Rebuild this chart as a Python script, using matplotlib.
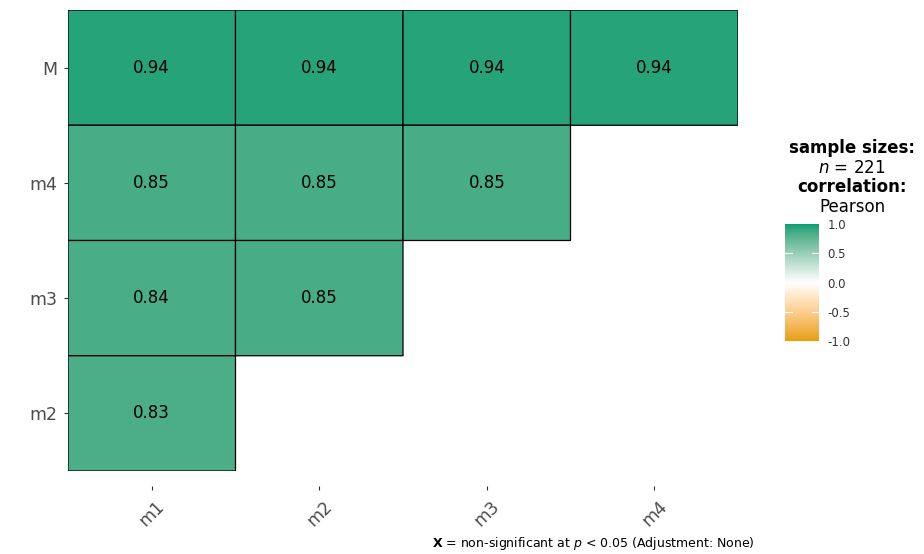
import numpy as np
import matplotlib
matplotlib.use("Agg")
import matplotlib.pyplot as plt
from matplotlib.colors import ListedColormap, to_rgb

plt.rcParams["font.family"] = ["DejaVu Sans"]
plt.rcParams["mathtext.fontset"] = "custom"
plt.rcParams["mathtext.rm"] = "DejaVu Sans"
plt.rcParams["mathtext.it"] = "DejaVu Sans:italic"
plt.rcParams["mathtext.bf"] = "DejaVu Sans:bold"

# correlation matrix (lower triangle), rows top to bottom
row_labels = ["M", "m4", "m3", "m2"]
col_labels = ["m1", "m2", "m3", "m4"]
row_M = [0.94, 0.94, 0.94, 0.94]
row_m4 = [0.85, 0.85, 0.85, np.nan]
row_m3 = [0.84, 0.85, np.nan, np.nan]
row_m2 = [0.83, np.nan, np.nan, np.nan]
cbar_ticks = [-1.0, -0.5, 0.0, 0.5, 1.0]
n_obs = 221


# gradient white -> end colours interpolated in Lab space (like ggplot)
def srgb_to_lab(rgb):
    c = np.array(rgb, dtype=float)
    c = np.where(c > 0.04045, ((c + 0.055) / 1.055) ** 2.4, c / 12.92)
    m = np.array([[0.4124, 0.3576, 0.1805],
                  [0.2126, 0.7152, 0.0722],
                  [0.0193, 0.1192, 0.9505]])
    xyz = m @ c / np.array([0.95047, 1.0, 1.08883])
    f = np.where(xyz > 0.008856, np.cbrt(xyz), 7.787 * xyz + 16 / 116)
    return np.array([116 * f[1] - 16, 500 * (f[0] - f[1]), 200 * (f[1] - f[2])])


def lab_to_srgb(lab):
    fy = (lab[0] + 16) / 116
    fx = fy + lab[1] / 500
    fz = fy - lab[2] / 200
    f = np.array([fx, fy, fz])
    xyz = np.where(f ** 3 > 0.008856, f ** 3, (f - 16 / 116) / 7.787)
    xyz = xyz * np.array([0.95047, 1.0, 1.08883])
    minv = np.array([[3.2406, -1.5372, -0.4986],
                     [-0.9689, 1.8758, 0.0415],
                     [0.0557, -0.2040, 1.0570]])
    c = minv @ xyz
    c = np.where(c > 0.0031308, 1.055 * np.abs(c) ** (1 / 2.4) - 0.055, 12.92 * c)
    return np.clip(c, 0, 1)


low = srgb_to_lab(to_rgb("#E69F00"))
mid = srgb_to_lab(to_rgb("white"))
high = srgb_to_lab(to_rgb("#009E73"))
cols = []
for t in np.linspace(-1, 1, 256):
    if t < 0:
        cols.append(lab_to_srgb(mid + (-t) * (low - mid)))
    else:
        cols.append(lab_to_srgb(mid + t * (high - mid)))
cmap = ListedColormap(cols)

data = np.ma.masked_invalid(np.array([row_M, row_m4, row_m3, row_m2]))

fig = plt.figure(figsize=(9.24, 5.54), dpi=100)
ax = fig.add_axes([68 / 924, 1 - 471 / 554, 670 / 924, 461 / 554])

mesh = ax.pcolor(data, cmap=cmap, vmin=-1, vmax=1,
                 edgecolors="black", linewidth=0.9)
ax.set_xlim(0, 4)
ax.set_ylim(4, 0)

for i in range(data.shape[0]):
    for j in range(data.shape[1]):
        if not np.ma.is_masked(data[i, j]):
            ax.text(j + 0.5, i + 0.5, f"{data[i, j]:.2f}", ha="center",
                    va="center", fontsize=12, color="black")

# x ticks sit below the panel with a small gap in the reference
ax.spines["bottom"].set_position(("outward", 11))
for s in ax.spines.values():
    s.set_visible(False)
ax.set_yticks(np.arange(4) + 0.5)
ax.set_yticklabels(row_labels, fontsize=12.5, color="#4D4D4D")
ax.set_xticks(np.arange(4) + 0.5)
ax.set_xticklabels(col_labels, fontsize=12.5, color="#4D4D4D",
                   rotation=45, ha="center", va="top")
ax.tick_params(axis="y", length=3, width=0.8, color="#333333", pad=5)
ax.tick_params(axis="x", length=3, width=0.8, color="#333333", pad=5)

# colourbar
cax = fig.add_axes([785 / 924, 1 - 341 / 554, 34 / 924, 117 / 554])
cb = fig.colorbar(mesh, cax=cax, ticks=cbar_ticks)
cb.outline.set_visible(False)
cb.ax.tick_params(length=0, labelsize=8.5, labelcolor="#333333", pad=6)
cb.ax.set_yticklabels([f"{v:.1f}" for v in cbar_ticks])
for v in cbar_ticks[1:-1]:
    cax.plot([0, 0.2], [v, v], color="white", lw=0.8)
    cax.plot([0.8, 1], [v, v], color="white", lw=0.8)
cax.set_xlim(0, 1)

# legend titles
xc = 852 / 924
fig.text(xc, 1 - 148 / 554, "sample sizes:", ha="center", va="center",
         fontsize=12, fontweight="bold", color="black")
fig.text(xc, 1 - 168 / 554, r"$\it{n}$ = " + str(n_obs), ha="center",
         va="center", fontsize=12, color="black")
fig.text(xc, 1 - 187 / 554, "correlation:", ha="center", va="center",
         fontsize=12, fontweight="bold", color="black")
fig.text(xc, 1 - 207 / 554, "Pearson", ha="center", va="center",
         fontsize=12, color="black")

# caption
fig.text(755 / 924, 1 - 543 / 554,
         r"$\mathbf{X}$ = non-significant at $\it{p}$ < 0.05 (Adjustment: None)",
         ha="right", va="center", fontsize=9, color="black")

fig.savefig("out.png", dpi=100, facecolor="white")
